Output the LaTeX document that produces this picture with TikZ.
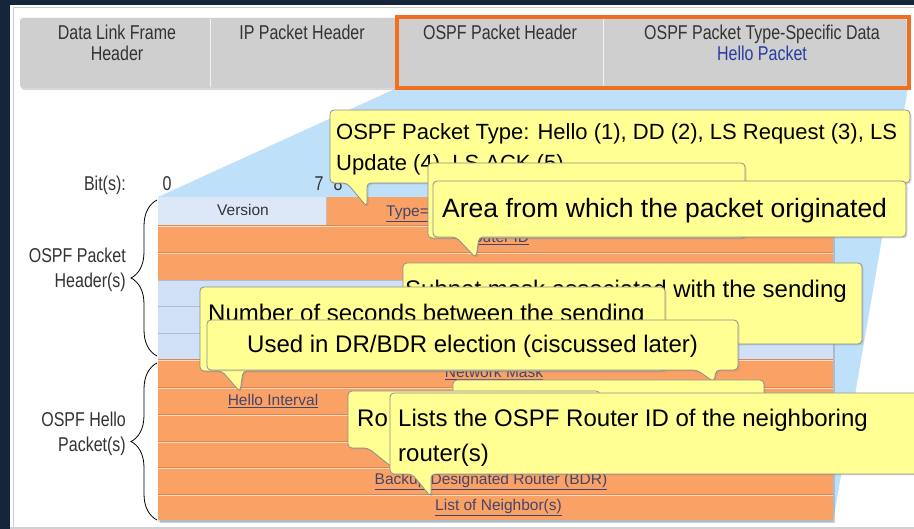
\documentclass[tikz,border=0pt]{standalone}
\usepackage{fontspec}
\setmainfont{Liberation Sans}
\usepackage{graphicx}
\usetikzlibrary{decorations.pathreplacing,shadows}
\definecolor{navy}{HTML}{15253A}
\definecolor{barGray}{HTML}{CFCFCF}
\definecolor{hiOrange}{HTML}{F07022}
\definecolor{projBlue}{HTML}{BEE0F9}
\definecolor{tabOrange}{HTML}{FAA266}
\definecolor{tabLine}{HTML}{DC8650}
\definecolor{cellBlue}{HTML}{DCE8F8}
\definecolor{rowBlue}{HTML}{CFE0F7}
\definecolor{blueLine}{HTML}{A9BDD8}
\definecolor{tabText}{HTML}{45456A}
\definecolor{labText}{HTML}{333333}
\definecolor{helloBlue}{HTML}{2A3CA0}
\definecolor{noteYellow}{HTML}{FFFF93}
\definecolor{noteBorder}{HTML}{8E8E8E}
\newcommand\fsz[2]{\fontsize{#1}{#2}\selectfont}
\newcommand\narrowtxt[2]{{\fsz{#1}{#1}\scalebox{0.8}[1]{#2}}}
\begin{document}
\begin{tikzpicture}[x=1pt,y=-1pt,
  lab/.style={inner sep=0pt,text=labText},
  tabtxt/.style={inner sep=0pt,text=tabText,font=\fsz{15.5}{18}},
  note/.style={fill=noteYellow,draw=noteBorder,line width=0.8pt,rounded corners=4pt,
    drop shadow={opacity=0.25,shadow xshift=1.5pt,shadow yshift=-1.5pt}},
  notetxt/.style={inner sep=0pt,anchor=base west,text=black},
  bracestyle/.style={decorate,decoration={brace,amplitude=26pt},draw=black,line width=0.8pt}]
\useasboundingbox (0,0) rectangle (914,529);
% frame
\fill[navy] (0,0) rectangle (914,529);
\fill[white] (10,5) rectangle (914,527);
\draw[gray!40] (13,7) -- (914,7);
\draw[gray!40] (13,7) -- (13,527);
\fill[gray!35] (10,527) rectangle (914,529);
% projection
\fill[projBlue] (397,88) -- (908,88) -- (833,522) -- (158,522) -- (158,197) -- cycle;
% header bar
\path[fill=barGray,rounded corners=3pt,drop shadow={opacity=0.3,shadow xshift=1pt,shadow yshift=-2pt}] (20,18) rectangle (906,88);
\draw[white!90!gray,line width=1pt] (210,19) -- (210,87);
\draw[white!90!gray,line width=1pt] (603,19) -- (603,87);
\draw[hiOrange,line width=4pt] (397,17) rectangle (909,88);
\node[lab,anchor=base] (h1a) at (117,40) {\narrowtxt{20}{Data Link Frame}};
\node[lab,anchor=base] (h1b) at (117,61) {\narrowtxt{20}{Header}};
\node[lab,anchor=base] (h2) at (302,40) {\narrowtxt{20}{IP Packet Header}};
\node[lab,anchor=base] (h3) at (500,40) {\narrowtxt{20}{OSPF Packet Header}};
\node[lab,anchor=base] (h4a) at (762,40) {\narrowtxt{20}{OSPF Packet Type-Specific Data}};
\node[lab,anchor=base,text=helloBlue] (h4b) at (762,61) {\narrowtxt{20}{Hello Packet}};
% bit labels
\node[lab,anchor=base east] (bits) at (126,191) {\narrowtxt{20}{Bit(s):}};
\node[lab,anchor=base] (b0) at (167,191) {\narrowtxt{20}{0}};
\node[lab,anchor=base] (b7) at (319,191) {\narrowtxt{20}{7}};
\node[lab,anchor=base] (b8) at (338,191) {\narrowtxt{20}{8}};
% side labels and braces
\node[lab,anchor=base east] (ph1) at (126,263) {\narrowtxt{20}{OSPF Packet}};
\node[lab,anchor=base east] (ph2) at (126,288) {\narrowtxt{20}{Header(s)}};
\node[lab,anchor=base east] (hp1) at (126,427) {\narrowtxt{20}{OSPF Hello}};
\node[lab,anchor=base east] (hp2) at (126,452) {\narrowtxt{20}{Packet(s)}};
\coordinate (brA1) at (157,356);
\coordinate (brA2) at (157,200);
\coordinate (brB1) at (157,520);
\coordinate (brB2) at (157,363);
\draw[bracestyle] (brA1) -- (brA2);
\draw[bracestyle] (brB1) -- (brB2);
% table
\path[fill=tabOrange,drop shadow={opacity=0.35,shadow xshift=2pt,shadow yshift=-2.5pt}] (158,197) rectangle (833,520);
\fill[cellBlue] (158,197) rectangle (326,225);
\fill[rowBlue] (158,280) rectangle (833,359);
\draw[gray!50] (326,197) -- (326,225);
\foreach \yy in {225,252,359,387,414,441,467,494}
  {\draw[tabLine,line width=0.9pt] (158,\yy) -- (833,\yy);
   \draw[white!60!tabOrange,line width=0.6pt] (158,\yy+1.2) -- (833,\yy+1.2);}
\foreach \yy in {280,306,333}
  \draw[blueLine,line width=0.9pt] (158,\yy) -- (833,\yy);
\node[tabtxt,anchor=base,text=labText] (tver) at (243,216) {Version};
\node[tabtxt,anchor=base west] (ttype) at (386,217) {\underline{Type=1}};
\node[tabtxt,anchor=base] (trid) at (496,243) {\underline{Router ID}};
\node[tabtxt,anchor=base] (tmask) at (494,378) {\underline{Network Mask}};
\node[tabtxt,anchor=base] (thello) at (273,406) {\underline{Hello Interval}};
\node[tabtxt,anchor=base] (tbdr) at (491,485) {\underline{Backup Designated Router (BDR)}};
\node[tabtxt,anchor=base west] (tlist) at (435,511) {\underline{List of Neighbor(s)}};
% callouts
\path[note] (330,110) -- (910,110) -- (910,183) -- (367,183) -- (367,207) -- (347,183) -- (330,183) -- cycle;
\node[notetxt,font=\fsz{22}{26}] (nA1) at (336,140) {OSPF Packet Type: Hello (1), DD (2), LS Request (3), LS};
\node[notetxt,font=\fsz{22}{26}] (nA2) at (336,171) {Update (4), LS ACK (5)};
\path[note] (428,163) rectangle (745,238);
\path[note] (433,181) -- (906,181) -- (906,237) -- (479,237) -- (476,258) -- (456,237) -- (433,237) -- cycle;
\node[notetxt,font=\fsz{26.5}{30}] (nC) at (442,218) {Area from which the packet originated};
\path[note] (403,263) rectangle (862,344);
\node[notetxt,anchor=base east,font=\fsz{24}{28}] (nD) at (847,298) {Subnet mask associated with the sending};
\path[note] (200,287) -- (665,287) -- (665,371) -- (243,371) -- (240,392) -- (222,371) -- (200,371) -- cycle;
\node[notetxt,font=\fsz{24}{28}] (nE) at (208,322) {Number of seconds between the sending};
\path[note] (207,320) -- (738,320) -- (738,370) -- (716,370) -- (714,382) -- (697,370) -- (207,370) -- cycle;
\node[notetxt,font=\fsz{24}{28}] (nF) at (247,353) {Used in DR/BDR election (ciscussed later)};
\path[note] (453,380) rectangle (764,470);
\path[note] (348,391) -- (600,391) -- (600,448) -- (390,448) -- (398,472) -- (368,448) -- (348,448) -- cycle;
\node[notetxt,font=\fsz{24}{28}] (nG) at (357,427) {Ro};
\path[note] (390,393) -- (930,393) -- (930,474) -- (431,474) -- (431,497) -- (412,474) -- (390,474) -- cycle;
\node[notetxt,font=\fsz{24}{28}] (nI1) at (398,427) {Lists the OSPF Router ID of the neighboring};
\node[notetxt,font=\fsz{24}{28}] (nI2) at (398,462) {router(s)};
\end{tikzpicture}
\end{document}
